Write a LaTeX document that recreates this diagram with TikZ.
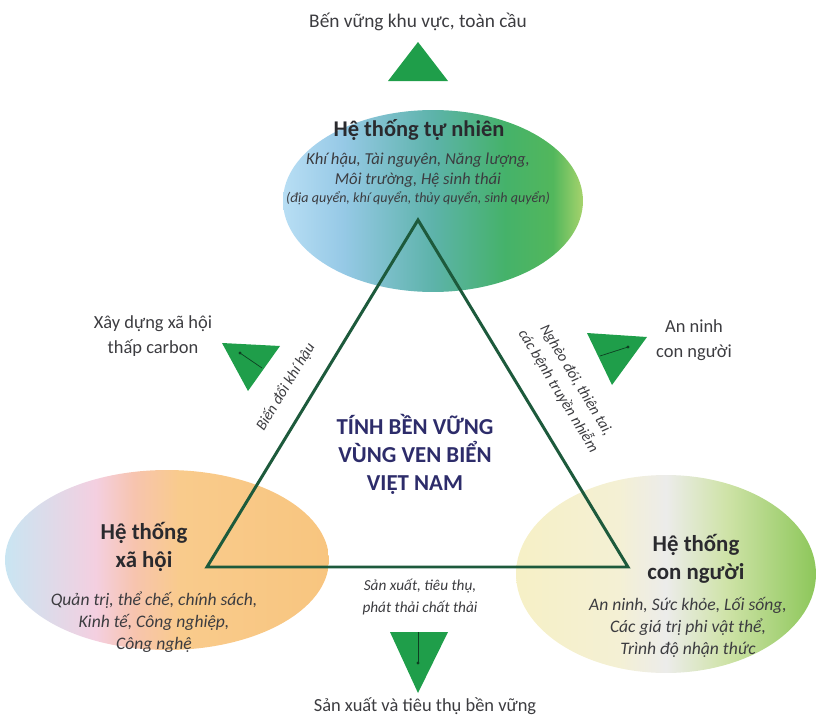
\documentclass[tikz,border=0pt]{standalone}
\usepackage{fontspec}
\setmainfont{Carlito}
\usetikzlibrary{shapes.geometric}
\usetikzlibrary{positioning}
\definecolor{edgegreen}{HTML}{1D5A3C}
\definecolor{mkgreen}{HTML}{1F9E4A}
\definecolor{mkdark}{HTML}{0E3F22}
\definecolor{navytxt}{HTML}{2D2C6A}
\definecolor{darktxt}{HTML}{2A2A2E}
\definecolor{graytxt}{HTML}{3C3C40}
% gradient stops of the three systems
\definecolor{tnA}{HTML}{B8DEF4}
\definecolor{tnB}{HTML}{96C9E6}
\definecolor{tnC}{HTML}{5DB3AA}
\definecolor{tnD}{HTML}{45B26A}
\definecolor{tnE}{HTML}{52B75C}
\definecolor{tnF}{HTML}{A6D36C}
\definecolor{xhA}{HTML}{C9E5F2}
\definecolor{xhB}{HTML}{F4CFE0}
\definecolor{xhC}{HTML}{F7C4AE}
\definecolor{xhD}{HTML}{F9CB8C}
\definecolor{xhE}{HTML}{F8C57F}
\definecolor{cnA}{HTML}{F6F0C6}
\definecolor{cnB}{HTML}{F4F0D4}
\definecolor{cnC}{HTML}{ECECEA}
\definecolor{cnD}{HTML}{CFE3A8}
\definecolor{cnE}{HTML}{8DC75A}
\pgfdeclarehorizontalshading{shtunhien}{100bp}{color(0bp)=(tnA); color(25bp)=(tnA); color(35bp)=(tnB); color(50bp)=(tnC); color(62bp)=(tnD); color(70bp)=(tnE); color(75bp)=(tnF); color(100bp)=(tnF)}
\pgfdeclarehorizontalshading{shxahoi}{100bp}{color(0bp)=(xhA); color(25bp)=(xhA); color(39bp)=(xhB); color(45bp)=(xhC); color(52bp)=(xhD); color(75bp)=(xhE); color(100bp)=(xhE)}
\pgfdeclarehorizontalshading{shconnguoi}{100bp}{color(0bp)=(cnA); color(25bp)=(cnA); color(42bp)=(cnB); color(50bp)=(cnC); color(60bp)=(cnD); color(75bp)=(cnE); color(100bp)=(cnE)}
\tikzset{
    sysell/.style = {ellipse, inner sep=0pt},
    edgetri/.style = {line width=1.7pt, draw=edgegreen, line join=miter},
    marker/.style = {fill=mkgreen},
    markline/.style = {draw=mkdark, line width=0.4pt},
    systitle/.style = {align=center, inner sep=0pt, text=darktxt, font=\bfseries\fontsize{13}{16}\selectfont},
    sysbody/.style = {align=center, inner sep=0pt, text=graytxt, font=\itshape\fontsize{10}{12.5}\selectfont},
    sysnote/.style = {align=center, inner sep=0pt, text=graytxt, font=\itshape\fontsize{8}{10}\selectfont},
    edgelbl/.style = {align=center, inner sep=0pt, text=graytxt, font=\itshape\fontsize{8.7}{12}\selectfont},
    outlbl/.style = {align=center, inner sep=0pt, text=graytxt, font=\fontsize{10.5}{14.5}\selectfont},
    titlelbl/.style = {align=center, inner sep=0pt, text=navytxt, font=\bfseries\fontsize{13}{16}\selectfont}
}

\begin{document}
\begin{tikzpicture}[x=0.02cm, y=-0.02cm]
\useasboundingbox (0,0) rectangle (819,720);

% the three systems
\node[sysell, shading=shtunhien, minimum width=6cm, minimum height=3.64cm] at (433,201) (tunhien) {};
\node[sysell, shading=shxahoi, minimum width=6.48cm, minimum height=3.6cm] at (167,560) (xahoi) {};
\node[sysell, shading=shconnguoi, minimum width=6cm, minimum height=3.96cm] at (666,574) (connguoi) {};

% triangle
\coordinate (top) at (418,220);
\coordinate (bl) at (207,567);
\coordinate (br) at (628,567);
\draw[edgetri] (top) -- (br) -- (bl) -- cycle;

\path (bl) -- (top) node[edgelbl, pos=0.48, sloped, above=0.38cm] (bdkh) {Biến đổi khí hậu};
\path (top) -- (br) node[edgelbl, pos=0.54, sloped, above=0.48cm] (ngheo) {Nghèo đói, thiên tai,\\ các bệnh truyền nhiễm};
\node[edgelbl] at (420,597) (sxtt) {Sản xuất, tiêu thụ,\\ phát thải chất thải};

\node[titlelbl] at (415,454) (tinh) {TÍNH BỀN VỮNG\\ VÙNG VEN BIỂN\\ VIỆT NAM};

% system texts
\node[systitle, font=\bfseries\fontsize{12.8}{15}\selectfont] at (419,130) (tntitle) {Hệ thống tự nhiên};
\node[sysbody, font=\itshape\fontsize{9.5}{11.3}\selectfont] at (418,170) (tnbody) {Khí hậu, Tài nguyên, Năng lượng,\\ Môi trường, Hệ sinh thái};
\node[sysnote] at (418,198) (tnnote) {(địa quyển, khí quyển, thủy quyển, sinh quyển)};

\node[systitle] at (144,547) (xhtitle) {Hệ thống\\ xã hội};
\node[sysbody] at (154,622) (xhbody) {Quản trị, thể chế, chính sách,\\ Kinh tế, Công nghiệp,\\ Công nghệ};

\node[systitle] at (696,559) (cntitle) {Hệ thống\\ con người};
\node[sysbody] at (688,627) (cnbody) {An ninh, Sức khỏe, Lối sống,\\ Các giá trị phi vật thể,\\ Trình độ nhận thức};

% markers
\fill[marker] (388,81) -- (448,81) -- (418,42) -- cycle;
\fill[marker] (222,343) -- (280,346) -- (248,391) -- cycle;
\fill[marker] (587,333) -- (647,337) -- (612,385) -- cycle;
\fill[marker] (390,632) -- (448,632) -- (418,693) -- cycle;
\draw[markline] (240,353) -- (262,368);
\fill[mkdark] (240,353) circle (0.9pt);
\draw[markline] (628,347) -- (600,356);
\fill[mkdark] (628,347) circle (0.9pt);
\draw[markline] (418,632) -- (418,663);
\fill[mkdark] (418,663) circle (0.9pt);

% outer labels
\node[outlbl, font=\fontsize{11}{14.5}\selectfont] at (418,22) (benvung) {Bến vững khu vực, toàn cầu};
\node[outlbl] at (153,336) (xaydung) {Xây dựng xã hội\\ thấp carbon};
\node[outlbl] at (694,340) (anninh) {An ninh\\ con người};
\node[outlbl] at (425,706) (sanxuat) {Sản xuất và tiêu thụ bền vững};

\end{tikzpicture}
\end{document}
